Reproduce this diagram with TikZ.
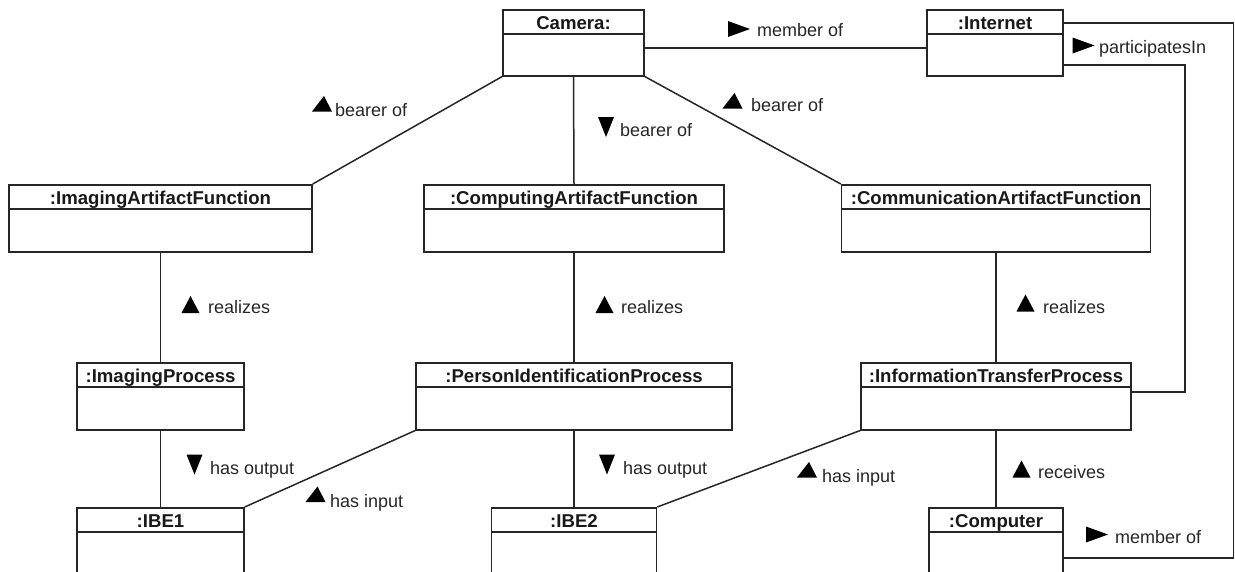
\documentclass[tikz,border=0pt]{standalone}
\usepackage{fontspec}
\setmainfont{Liberation Sans}
\usetikzlibrary{calc}
\tikzset{
  ln/.style={line width=1.5pt, draw=black!85},
  obj/.style={ln, rectangle, inner sep=0pt, fill=white},
  hdr/.style={inner sep=0pt, font=\fontsize{18.6}{20}\selectfont\bfseries, text=black!90},
  lbl/.style={inner sep=0pt, anchor=base west, font=\fontsize{18}{20}\selectfont, text=black!85},
  tup/.pic={\fill[black] (-9,8.5) -- (9,8.5) -- (0,-8.5) -- cycle;},
  tskew/.pic={\fill[black] (-10,7.5) -- (10,7.5) -- (2,-8) -- cycle;},
  tdown/.pic={\fill[black] (-8,-10) -- (8,-10) -- (0,10) -- cycle;},
  tright/.pic={\fill[black] (-11,-8) -- (11,0) -- (-11,8) -- cycle;},
}
\newcommand\objbox[6]{%
  \node[obj, minimum width=#4pt, minimum height=#5pt, anchor=north] (#1) at (#2,#3) {};
  \draw[ln] ([yshift=-25pt]#1.north west) -- ([yshift=-25pt]#1.north east);
  \node[hdr, anchor=base] (#1-t) at ([yshift=-20.5pt]#1.north) {#6};
}
\begin{document}
\begin{tikzpicture}[x=1pt,y=-1pt]
\useasboundingbox (0,0) rectangle (1235,571);
% boxes
\objbox{cam}{573.5}{9}{141}{66}{Camera:}
\objbox{inet}{995}{9}{136}{66}{:Internet}
\objbox{iaf}{160.5}{184}{303}{67}{:ImagingArtifactFunction}
\objbox{caf}{574}{184}{300}{67}{:ComputingArtifactFunction}
\objbox{comaf}{996}{184}{309}{67}{:CommunicationArtifactFunction}
\objbox{ip}{160.5}{362}{167}{67}{:ImagingProcess}
\objbox{pip}{574}{362}{316}{67}{:PersonIdentificationProcess}
\objbox{itp}{996}{362}{270}{67}{:InformationTransferProcess}
\objbox{ibe1}{160.5}{507}{167}{70}{:IBE1}
\objbox{ibe2}{574}{507}{165}{70}{:IBE2}
\objbox{comp}{996}{507}{134}{70}{:Computer}
% connectors
\draw[ln] ($(cam.east)+(0,5)$) -- ($(inet.west)+(0,5)$);
\draw[ln] (cam.south west) -- (iaf.north east);
\draw[ln] (cam.south) -- (caf.north);
\draw[ln] (cam.south east) -- (comaf.north west);
\draw[ln] (iaf.south) -- (ip.north);
\draw[ln] (caf.south) -- (pip.north);
\draw[ln] (comaf.south) -- (itp.north);
\draw[ln] (ip.south) -- (ibe1.north);
\draw[ln] (pip.south) -- (ibe2.north);
\draw[ln] (itp.south) -- (comp.north);
\draw[ln] (pip.south west) -- (ibe1.north east);
\draw[ln] (itp.south west) -- (ibe2.north east);
\coordinate (rx) at (1233.5,0);
\coordinate (px) at (1185,0);
\coordinate (a1) at ($(inet.east)+(0,-20)$);
\coordinate (b1) at ($(comp.east)+(0,15)$);
\draw[ln] (a1) -| (rx |- b1) -- (b1);
\coordinate (a2) at ($(inet.east)+(0,22)$);
\coordinate (b2) at ($(itp.east)+(0,-4.5)$);
\draw[ln] (a2) -| (px |- b2) -- (b2);
% labels
\pic at (322,104) {tskew};
\node[lbl] (l1) at (335,116.5) {bearer of};
\pic at (606,127) {tdown};
\node[lbl] (l2) at (620,136) {bearer of};
\pic at (732.5,101) {tskew};
\node[lbl] (l3) at (751,111.5) {bearer of};
\pic at (739,29) {tright};
\node[lbl] (l4) at (757,36.5) {member of};
\pic at (1083.5,45.5) {tright};
\node[lbl] (l5) at (1099,53) {participatesIn};
\pic at (190.5,304.5) {tup};
\node[lbl] (l6) at (208,313) {realizes};
\pic at (604.5,304.5) {tup};
\node[lbl] (l7) at (621,313) {realizes};
\pic at (1025.5,303) {tup};
\node[lbl] (l8) at (1043,313) {realizes};
\pic at (194.5,464.5) {tdown};
\node[lbl] (l9) at (210,474) {has output};
\pic at (315.5,494.5) {tskew};
\node[lbl] (l10) at (330,507) {has input};
\pic at (607,464.5) {tdown};
\node[lbl] (l11) at (623,474) {has output};
\pic at (807,470) {tskew};
\node[lbl] (l12) at (822,482) {has input};
\pic at (1021.5,469) {tup};
\node[lbl] (l13) at (1038,478) {receives};
\pic at (1097,534.5) {tright};
\node[lbl] (l14) at (1115,543) {member of};
\end{tikzpicture}
\end{document}
